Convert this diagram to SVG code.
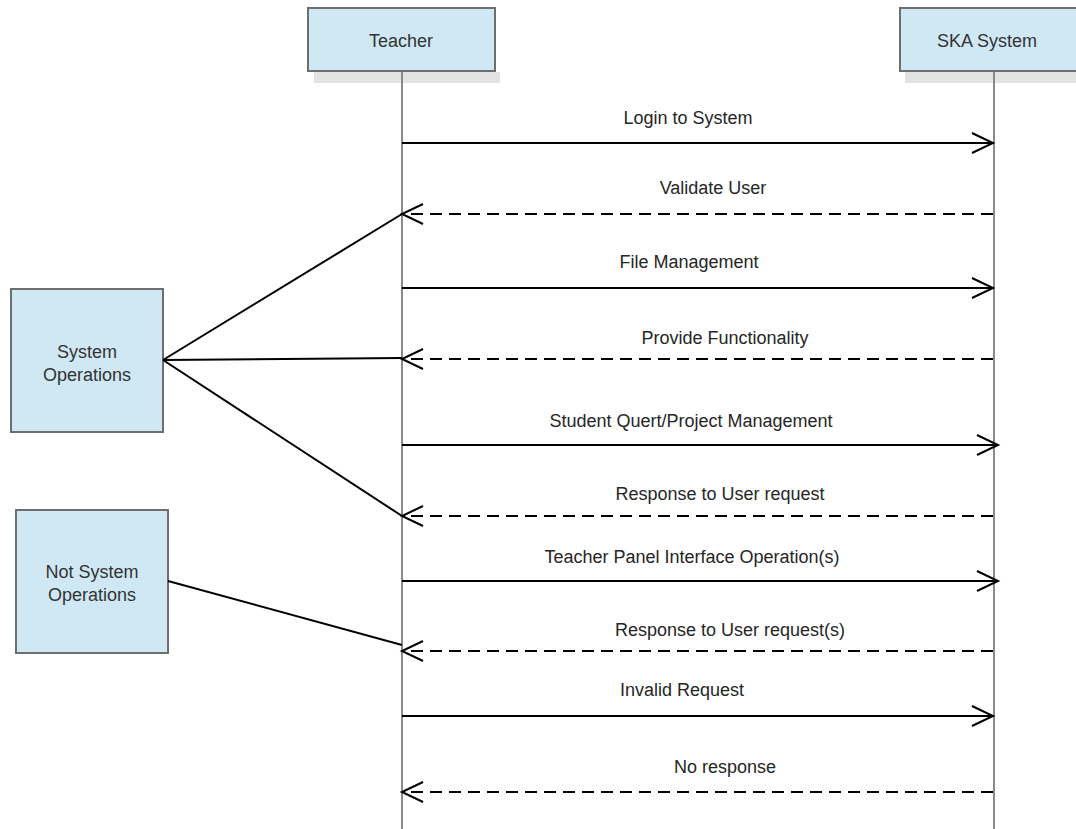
<svg xmlns="http://www.w3.org/2000/svg" width="1076" height="829" viewBox="0 0 1076 829">
<style>
.box{fill:#cfe8f4;stroke:#6e6e6e;stroke-width:2}
.shadow{fill:#e3e3e3}
.life{stroke:#8a8a8a;stroke-width:2;fill:none}
.msg{stroke:#000;stroke-width:2;fill:none}
.ret{stroke:#000;stroke-width:2;fill:none;stroke-dasharray:12 7}
.head{stroke:#000;stroke-width:2;fill:none}
.link{stroke:#000;stroke-width:2;fill:none}
text{font-family:"Liberation Sans",Arial,sans-serif;font-size:18px;text-anchor:middle}
.lbl{fill:#262626}
.nt{fill:#333}
</style>
<rect width="1076" height="829" fill="#fff"/>
<g id="teacher">
<rect class="shadow" x="314" y="72" width="186" height="11"/>
<rect class="box" x="308" y="8" width="187" height="63"/>
<text class="nt" x="401" y="47">Teacher</text>
</g>
<g id="ska">
<rect class="shadow" x="905" y="72" width="180" height="11"/>
<rect class="box" x="900" y="8" width="185" height="63"/>
<text class="nt" x="987" y="47">SKA System</text>
</g>
<g id="lifelines">
<line class="life" x1="402" y1="72" x2="402" y2="829"/>
<line class="life" x1="994" y1="72" x2="994" y2="829"/>
</g>
<g id="sysops">
<rect class="box" x="11" y="289" width="152" height="143"/>
<text class="nt" x="87" y="358">System</text>
<text class="nt" x="87" y="381">Operations</text>
</g>
<g id="notsysops">
<rect class="box" x="16" y="510" width="152" height="143"/>
<text class="nt" x="92" y="578">Not System</text>
<text class="nt" x="92" y="601">Operations</text>
</g>
<g id="connectors">
<path class="link" d="M163 360 L402 214 M163 360 L402 358 M163 360 L402 516 M168 581 L402 645"/>
<line class="msg" x1="402" y1="143" x2="993" y2="143"/>
<path class="head" d="M972 133 L993 143 L972 153"/>
<line class="ret" x1="993" y1="214" x2="403" y2="214"/>
<path class="head" d="M423 204 L402 214 L423 224"/>
<line class="msg" x1="402" y1="288" x2="993" y2="288"/>
<path class="head" d="M972 278 L993 288 L972 298"/>
<line class="ret" x1="993" y1="359" x2="403" y2="359"/>
<path class="head" d="M423 349 L402 359 L423 369"/>
<line class="msg" x1="402" y1="445" x2="998" y2="445"/>
<path class="head" d="M977 435 L998 445 L977 455"/>
<line class="ret" x1="993" y1="516" x2="403" y2="516"/>
<path class="head" d="M423 506 L402 516 L423 526"/>
<line class="msg" x1="402" y1="581" x2="998" y2="581"/>
<path class="head" d="M977 571 L998 581 L977 591"/>
<line class="ret" x1="993" y1="651" x2="403" y2="651"/>
<path class="head" d="M423 641 L402 651 L423 661"/>
<line class="msg" x1="402" y1="716" x2="993" y2="716"/>
<path class="head" d="M972 706 L993 716 L972 726"/>
<line class="ret" x1="993" y1="792" x2="403" y2="792"/>
<path class="head" d="M423 782 L402 792 L423 802"/>
</g>
<g id="labels">
<text class="lbl" x="688" y="124">Login to System</text>
<text class="lbl" x="713" y="194">Validate User</text>
<text class="lbl" x="689" y="268">File Management</text>
<text class="lbl" x="725" y="344">Provide Functionality</text>
<text class="lbl" x="691" y="427">Student Quert/Project Management</text>
<text class="lbl" x="720" y="500">Response to User request</text>
<text class="lbl" x="692" y="563">Teacher Panel Interface Operation(s)</text>
<text class="lbl" x="730" y="636">Response to User request(s)</text>
<text class="lbl" x="682" y="696">Invalid Request</text>
<text class="lbl" x="725" y="773">No response</text>
</g>
</svg>
